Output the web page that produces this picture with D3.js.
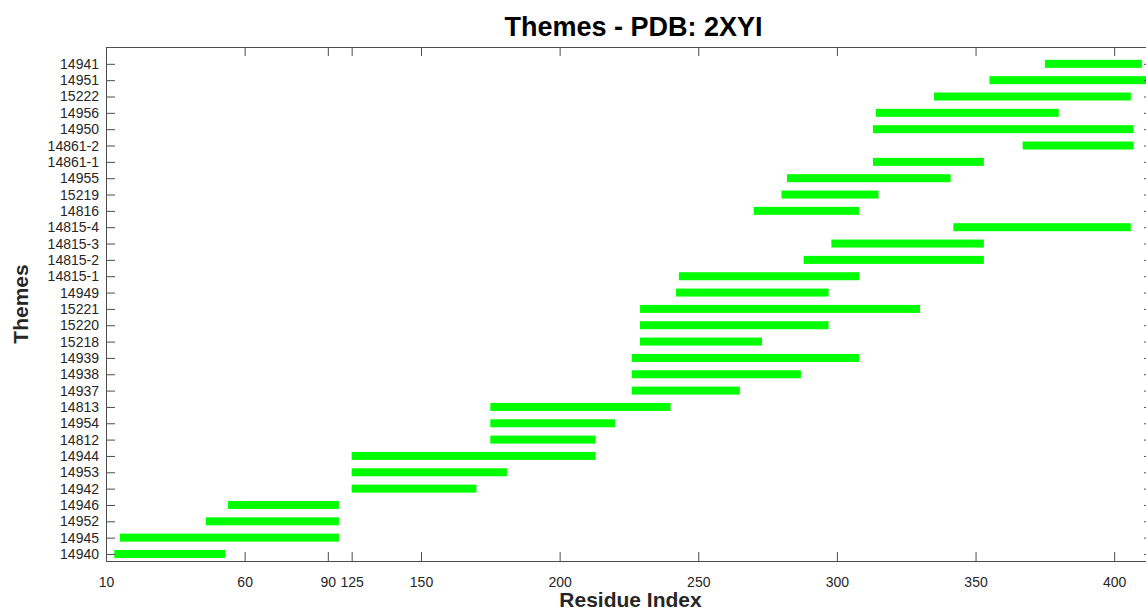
<!DOCTYPE html>
<html>
<head>
<meta charset="utf-8">
<script src="https://cdn.jsdelivr.net/npm/d3@7"></script>
<style>
  html, body { margin: 0; padding: 0; background: #fff; overflow: hidden; }
  svg { display: block; font-family: "Liberation Sans", Arial, Helvetica, sans-serif; }
</style>
</head>
<body>
<svg id="chart" width="1146" height="610"></svg>
<script>
// Theme identifiers, listed from the bottom row to the top row
const themes = [
  "14940", "14945", "14952", "14946", "14942", "14953", "14944", "14812",
  "14954", "14813", "14937", "14938", "14939", "15218", "15220", "15221",
  "14949", "14815-1", "14815-2", "14815-3", "14815-4", "14816", "15219",
  "14955", "14861-1", "14861-2", "14950", "14956", "15222", "14951", "14941"
];

// First and last residue covered by each theme (same order as themes)
const startResidue = [
  13, 15, 46, 54, 125, 125, 125, 175,
  175, 175, 226, 226, 226, 229, 229, 229,
  242, 243, 288, 298, 342, 270, 280,
  282, 313, 367, 313, 314, 335, 355, 375
];
const endResidue = [
  53, 94, 94, 94, 170, 181, 213, 213,
  220, 240, 265, 287, 308, 273, 297, 330,
  297, 308, 353, 353, 406, 308, 315,
  341, 353, 407, 407, 380, 406, 420, 410
];

// Residue axis: ticks, limits and the compressed gap between 94 and 125
const xTicks = [10, 60, 90, 125, 150, 200, 250, 300, 350, 400];
const xMin = 10;
const xMax = 414;
const gapFrom = 94;
const gapTo = 125;
const gapWidth = 4.6;      // drawn width of the compressed gap, in residues
const yLimits = [0.57, 32.03];

const W = 1146, H = 610;
const margin = { left: 106, right: -7, top: 47, bottom: 49 };
const plotLeft = margin.left;
const plotRight = W - margin.right;
const plotTop = margin.top;
const plotBottom = H - margin.bottom;
const plotW = plotRight - plotLeft;
const plotH = plotBottom - plotTop;

const svg = d3.select("#chart");

// Piecewise-linear scale: same slope on both sides of the gap
const span = (gapFrom - xMin) + gapWidth + (xMax - gapTo);
const k = plotW / span;
const x = d3.scaleLinear()
  .domain([xMin, gapFrom, gapTo, xMax])
  .range([
    plotLeft,
    plotLeft + (gapFrom - xMin) * k,
    plotLeft + (gapFrom - xMin + gapWidth) * k,
    plotRight
  ]);

const y = d3.scaleLinear().domain(yLimits).range([plotBottom, plotTop]);
const rowIdx = d3.range(1, themes.length + 1);

// Clip the bars to the axes box
svg.append("defs").append("clipPath").attr("id", "plot-clip")
  .append("rect")
  .attr("x", plotLeft).attr("y", plotTop)
  .attr("width", plotW).attr("height", plotH);

const barH = 8;
svg.append("g").attr("clip-path", "url(#plot-clip)")
  .selectAll("rect")
  .data(themes.map((t, i) => ({ t, row: i + 1, s: startResidue[i], e: endResidue[i] })))
  .join("rect")
  .attr("x", d => x(d.s))
  .attr("width", d => x(d.e) - x(d.s))
  .attr("y", d => y(d.row) - barH / 2)
  .attr("height", barH)
  .attr("fill", "#00ff00");

const axisColor = "#4d4d4d";
const textColor = "#262626";
const tickLen = 9;

function styleAxis(g, fontSize) {
  g.select(".domain").remove();
  g.selectAll(".tick line").attr("stroke", axisColor).attr("stroke-width", 1);
  g.selectAll(".tick text")
    .attr("fill", textColor)
    .style("font-size", fontSize + "px")
    .style("font-family", '"Liberation Sans", Arial, sans-serif');
}

// Bottom axis with labels, ticks pointing inward
svg.append("g")
  .attr("transform", `translate(0,${plotBottom})`)
  .call(d3.axisBottom(x).tickValues(xTicks).tickFormat(d3.format("d"))
    .tickSizeInner(-tickLen).tickSizeOuter(0).tickPadding(16))
  .call(g => styleAxis(g, 14));

// Top axis, ticks only
svg.append("g")
  .attr("transform", `translate(0,${plotTop})`)
  .call(d3.axisTop(x).tickValues(xTicks).tickFormat("")
    .tickSizeInner(-tickLen).tickSizeOuter(0))
  .call(g => styleAxis(g, 14));

// Left axis with theme labels
svg.append("g")
  .attr("transform", `translate(${plotLeft},0)`)
  .call(d3.axisLeft(y).tickValues(rowIdx).tickFormat(i => themes[i - 1])
    .tickSizeInner(-tickLen).tickSizeOuter(0).tickPadding(7))
  .call(g => styleAxis(g, 14));

// Right axis, ticks only
svg.append("g")
  .attr("transform", `translate(${plotRight},0)`)
  .call(d3.axisRight(y).tickValues(rowIdx).tickFormat("")
    .tickSizeInner(-tickLen).tickSizeOuter(0))
  .call(g => styleAxis(g, 14));

// Axes box
svg.append("rect")
  .attr("x", plotLeft + 0.5).attr("y", plotTop + 0.5)
  .attr("width", plotW).attr("height", plotH)
  .attr("fill", "none").attr("stroke", axisColor).attr("stroke-width", 1);

const cx = (plotLeft + plotRight) / 2;

// Title
svg.append("text")
  .attr("x", cx + 4).attr("y", 36)
  .attr("text-anchor", "middle")
  .style("font-size", "27px").style("font-weight", "bold")
  .attr("fill", "#000")
  .text("Themes - PDB: 2XYI");

// Axis labels
svg.append("text")
  .attr("x", cx + 1).attr("y", 607)
  .attr("text-anchor", "middle")
  .style("font-size", "21px").style("font-weight", "bold")
  .attr("fill", textColor)
  .text("Residue Index");

svg.append("text")
  .attr("transform", `translate(28,${(plotTop + plotBottom) / 2}) rotate(-90)`)
  .attr("text-anchor", "middle")
  .style("font-size", "21px").style("font-weight", "bold")
  .attr("fill", textColor)
  .text("Themes");
</script>
</body>
</html>
